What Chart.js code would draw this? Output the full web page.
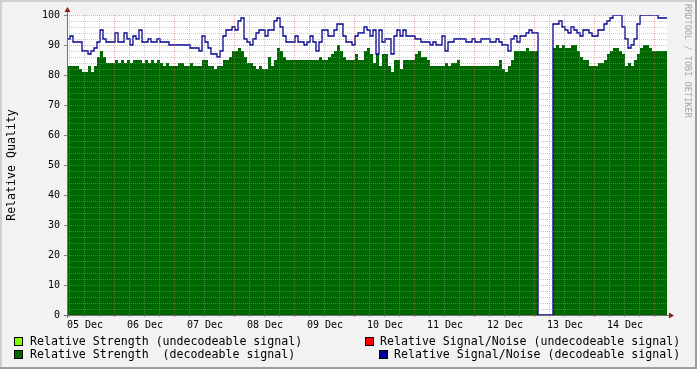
<!DOCTYPE html>
<html><head><meta charset="utf-8">
<script src="https://cdn.jsdelivr.net/npm/chart.js@4/dist/chart.umd.min.js"></script>
<style>
html,body{margin:0;padding:0;background:#F2F2F2;}
#wrap{position:relative;width:697px;height:369px;overflow:hidden;}
canvas{position:absolute;left:0;top:0;}
.lg{position:absolute;font-family:"DejaVu Sans Mono",monospace;font-size:11.6px;line-height:14px;color:#000;white-space:pre;}
.sq{position:absolute;width:9px;height:9px;border:1px solid #000;box-sizing:border-box;}
#wm{position:absolute;left:683px;top:4px;writing-mode:vertical-rl;font-family:"DejaVu Sans Mono",monospace;font-size:8.6px;color:#A8A8A8;white-space:pre;}
</style>
</head><body>
<div id="wrap">
<canvas id="c" width="697" height="369"></canvas>
<div id="wm">RRDTOOL / TOBI OETIKER</div>
<div class="sq" style="left:14px;top:337px;background:#80FF00"></div>
<div class="lg" style="left:30px;top:334px">Relative Strength (undecodeable signal)</div>
<div class="sq" style="left:14px;top:350px;background:#006600"></div>
<div class="lg" style="left:30px;top:347px">Relative Strength  (decodeable signal)</div>
<div class="sq" style="left:365px;top:337px;background:#FF0000"></div>
<div class="lg" style="left:380px;top:334px">Relative Signal/Noise (undecodeable signal)</div>
<div class="sq" style="left:379px;top:350px;background:#000099"></div>
<div class="lg" style="left:394px;top:347px">Relative Signal/Noise (decodeable signal)</div>
</div>
<script>
const dayLabels = ['05 Dec','06 Dec','07 Dec','08 Dec','09 Dec','10 Dec','11 Dec','12 Dec','13 Dec','14 Dec'];

const strength = [
83,83,83,83,82,81,81,83,81,83,
86,88,86,84,84,84,85,84,85,84,
85,84,85,85,85,84,85,84,85,84,
85,84,83,84,83,83,83,84,84,83,
83,84,83,83,83,85,85,83,83,82,
83,83,85,85,86,88,88,89,88,86,
84,84,83,82,83,82,82,86,83,85,
89,88,86,85,85,85,85,85,85,85,
85,85,85,85,86,85,85,86,87,88,
90,88,86,85,85,85,87,85,85,88,
89,87,84,87,83,87,87,83,81,85,
85,82,85,85,85,85,87,88,86,86,
85,83,83,83,83,83,84,83,84,84,
85,83,83,83,83,83,83,83,83,83,
83,83,83,83,85,82,81,83,85,88,
88,88,88,89,88,88,88,0,0,0,
0,0,89,90,89,90,89,89,90,90,
88,86,85,85,83,83,83,84,84,85,
87,88,89,89,88,87,83,84,83,85,
87,89,90,90,89,88,88,88,88,88
];

const signalNoise = [
92,93,91,91,91,88,88,87,88,89,
91,95,92,91,91,91,94,91,91,94,
92,90,93,92,95,91,91,92,91,91,
92,91,91,91,90,90,90,90,90,90,
90,89,89,89,88,93,91,89,87,87,
86,88,93,95,95,96,95,98,99,92,
91,90,92,94,95,95,93,95,95,98,
99,96,93,91,91,91,93,91,91,90,
91,93,91,88,91,95,95,93,93,95,
97,97,93,91,91,90,93,94,94,96,
95,93,95,87,95,91,92,92,87,93,
95,93,95,93,93,93,92,92,91,91,
91,90,91,90,90,93,88,91,91,92,
92,92,92,91,91,92,91,91,92,92,
92,91,91,92,91,90,90,88,92,93,
91,93,93,94,95,94,94,0,0,0,
0,0,97,97,98,96,95,94,96,95,
94,93,95,95,94,93,93,95,95,97,
98,99,100,100,100,96,92,89,90,92,
97,100,100,100,100,100,100,99,99,99
];

const STEP = 3; // x units per sample
function toPoints(arr){
  const pts = arr.map((v,i)=>({x:i*STEP,y:v}));
  pts.push({x:arr.length*STEP,y:arr[arr.length-1]});
  return pts;
}

const MINOR='rgba(150,150,150,0.5)', MAJOR='rgba(225,90,90,0.5)';
const rrdPlugin = {
  id:'rrd',
  beforeDraw(chart){
    const c=chart.ctx,a=chart.chartArea,W=chart.width,H=chart.height;
    c.save();
    c.fillStyle='#F2F2F2'; c.fillRect(0,0,W,H);
    c.fillStyle='#FFFFFF'; c.fillRect(a.left,a.top,a.right-a.left,a.bottom-a.top);
    c.fillStyle='#CFCFCF'; c.fillRect(0,0,W,2); c.fillRect(0,0,2,H);
    c.fillStyle='#9E9E9E'; c.fillRect(0,H-2,W,2); c.fillRect(W-2,0,2,H);
    c.restore();
  },
  afterDatasetsDraw(chart){
    const c=chart.ctx,a=chart.chartArea,xs=chart.scales.x,ys=chart.scales.y;
    c.save(); c.lineWidth=1;
    function ln(x1,y1,x2,y2,col,dash){c.strokeStyle=col;c.setLineDash(dash);c.beginPath();c.moveTo(x1,y1);c.lineTo(x2,y2);c.stroke();}
    // horizontal grid
    for(let v=2; v<=100; v+=2){
      const y=Math.round(ys.getPixelForValue(v))+0.5;
      if(v%10===0){ ln(a.left,y,a.right,y,MAJOR,[1,1]); ln(a.left-3,y,a.left,y,'#888',[]); }
      else ln(a.left,y,a.right,y,MINOR,[1,1]);
    }
    // vertical grid
    for(let u=2; u<600; u+=15){
      const x=Math.round(xs.getPixelForValue(u))+0.5;
      const major=((u-47)%60===0);
      ln(x,a.top,x,a.bottom,major?MAJOR:MINOR,[1,1]);
      ln(x,a.bottom,x,a.bottom+2,major?'rgba(222,79,79,0.8)':'#aaa',[]);
    }
    // axes
    const x0=a.left+0.5, y0=a.bottom+0.5;
    ln(x0,a.bottom+3,x0,a.top-4,'#707070',[]);
    ln(a.left-3,y0,a.right+5,y0,'#707070',[]);
    c.setLineDash([]); c.fillStyle='#8B1E1E';
    c.beginPath(); c.moveTo(x0,a.top-8); c.lineTo(x0-3,a.top-3); c.lineTo(x0+3,a.top-3); c.closePath(); c.fill();
    c.beginPath(); c.moveTo(a.right+7,y0); c.lineTo(a.right+2,y0-3); c.lineTo(a.right+2,y0+3); c.closePath(); c.fill();
    c.restore();
  }
};

new Chart(document.getElementById('c'), {
  type:'line',
  data:{datasets:[
    {label:'Relative Strength  (decodeable signal)', data:toPoints(strength), stepped:true,
     borderWidth:0, borderColor:'#006600', backgroundColor:'#006600', fill:'origin', pointRadius:0, order:2},
    {label:'Relative Signal/Noise (decodeable signal)', data:toPoints(signalNoise), stepped:true,
     borderWidth:1.3, borderColor:'#00008B', fill:false, pointRadius:0, order:1}
  ]},
  options:{
    responsive:false, animation:false, devicePixelRatio:1,
    layout:{padding:{left:0,top:15,right:30,bottom:0}},
    plugins:{legend:{display:false},tooltip:{enabled:false}},
    scales:{
      x:{type:'linear',min:0,max:600,
        grid:{display:false,drawTicks:false}, border:{display:false},
        afterFit(s){s.height=54;},
        afterBuildTicks(s){s.ticks=dayLabels.map((_,k)=>({value:18+60*k}));},
        ticks:{autoSkip:false,maxRotation:0,padding:4,color:'#000',
          font:{family:'"DejaVu Sans Mono"',size:10},
          callback:(v,i)=>dayLabels[i]}},
      y:{min:0,max:100,
        grid:{display:false,drawTicks:false}, border:{display:false},
        afterFit(s){s.width=67;},
        ticks:{stepSize:10,padding:7,color:'#000',font:{family:'"DejaVu Sans Mono"',size:10}},
        title:{display:true,text:'Relative Quality',color:'#000',padding:{top:5,bottom:0},
          font:{family:'"DejaVu Sans Mono"',size:11.6}}}
    }
  },
  plugins:[rrdPlugin]
});
</script>
</body></html>
